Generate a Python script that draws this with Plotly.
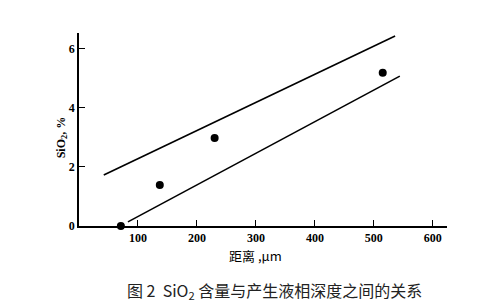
import plotly.graph_objects as go

# Data
dist_um = [71, 137, 230, 515]
sio2_pct = [0.0, 1.39, 2.98, 5.19]

upper_x = [42, 536]
upper_y = [1.73, 6.44]
lower_x = [83, 544]
lower_y = [0.14, 5.08]

x_ticks = [100, 200, 300, 400, 500, 600]
y_ticks = [0, 2, 4, 6]

line_style = dict(color="black", width=1.6)
fig = go.Figure()
fig.add_trace(go.Scatter(x=upper_x, y=upper_y, mode="lines", line=line_style,
                         showlegend=False, hoverinfo="skip"))
fig.add_trace(go.Scatter(x=lower_x, y=lower_y, mode="lines", line=line_style,
                         showlegend=False, hoverinfo="skip"))
fig.add_trace(go.Scatter(x=dist_um, y=sio2_pct, mode="markers",
                         marker=dict(color="black", size=8),
                         showlegend=False, cliponaxis=False))

tick_font = dict(family="Liberation Serif", size=12, color="black", weight="bold")
fig.update_xaxes(range=[0, 624], tickvals=x_ticks, ticks="inside", ticklen=6,
                 tickwidth=1.4, tickcolor="black", showline=True, linecolor="black",
                 linewidth=1.5, showgrid=False, zeroline=False, tickfont=tick_font,
                 ticklabelstandoff=0)
fig.update_yaxes(range=[0, 6.54], tickvals=y_ticks, ticks="inside", ticklen=6,
                 tickwidth=1.4, tickcolor="black", showline=True, linecolor="black",
                 linewidth=1.5, showgrid=False, zeroline=False, tickfont=tick_font,
                 ticklabelstandoff=0)

fig.add_annotation(text="SiO<sub>2</sub>, %", xref="paper", yref="paper",
                   x=-0.073, y=0.46, showarrow=False, textangle=-90,
                   font=dict(family="Liberation Serif", size=12, color="black", weight="bold"))
fig.add_annotation(text="距离 ,μm", xref="paper", yref="paper",
                   x=0.48, y=-0.155, showarrow=False, yanchor="middle",
                   font=dict(family="Noto Sans CJK SC", size=13, color="black"))
fig.add_annotation(text="图 2  SiO<sub>2</sub> 含量与产生液相深度之间的关系",
                   xref="paper", yref="paper", x=0.125, y=-0.335,
                   xanchor="left", yanchor="middle", showarrow=False,
                   font=dict(family="Noto Sans CJK SC", size=16, color="#222"))

fig.update_layout(width=491, height=307, margin=dict(l=79, r=44, t=33, b=81),
                  paper_bgcolor="white", plot_bgcolor="white")
fig.write_html("out.html")
